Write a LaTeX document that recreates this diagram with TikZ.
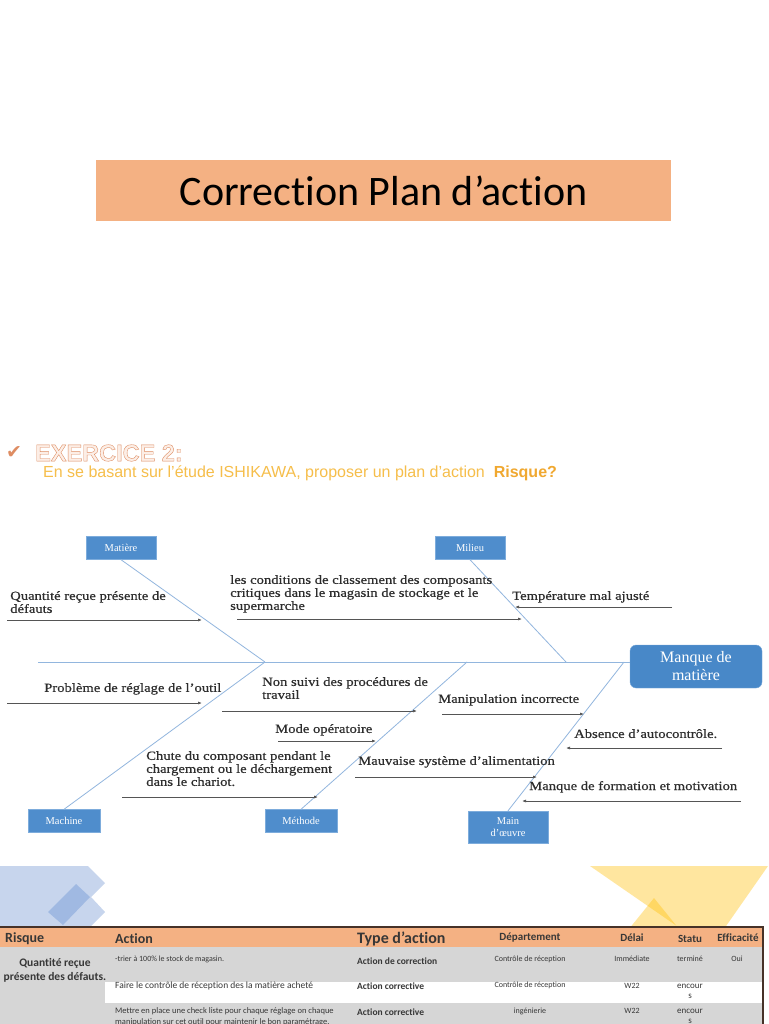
\documentclass[tikz,border=0pt]{standalone}
\usepackage{fontspec}
\setmainfont{Liberation Serif}
\newfontfamily\fishfont[FakeBold=0.45]{Liberation Serif}
\newfontfamily\calibri[Ligatures=NoCommon]{Carlito}
\newfontfamily\arial{Liberation Sans}
\newfontfamily\exofont[FakeBold=1.6]{Liberation Sans Bold}
\newfontfamily\dejavu{DejaVu Sans}
\usetikzlibrary{arrows.meta}
\definecolor{titlepeach}{RGB}{244,177,131}
\definecolor{bonecol}{RGB}{146,182,222}
\definecolor{catblue}{RGB}{79,141,204}
\definecolor{catedge}{RGB}{125,172,220}
\definecolor{headblue}{RGB}{72,136,200}
\definecolor{arrgray}{RGB}{85,85,85}
\definecolor{txtgray}{RGB}{45,45,45}
\definecolor{exoorange}{RGB}{222,140,98}
\definecolor{exopale}{RGB}{252,238,230}
\definecolor{subyellow}{RGB}{246,190,75}
\definecolor{risqorange}{RGB}{240,168,48}
\definecolor{rowgray}{RGB}{214,214,214}
\definecolor{tabline}{RGB}{70,50,40}
\definecolor{tabtxt}{RGB}{55,55,55}
\definecolor{decoblue}{RGB}{199,213,237}
\definecolor{decoblued}{RGB}{160,185,226}
\definecolor{decoyel}{RGB}{255,191,2}
\tikzstyle{cat}=[draw=catedge, fill=catblue, text=white, minimum width=70pt, minimum height=23pt, inner sep=1pt, font=\fontsize{10.5}{11.5}\selectfont]
\tikzstyle{lbl}=[anchor=north west, inner sep=0, align=left, text=txtgray, xscale=1.17, font=\fishfont\fontsize{12.5}{13}\selectfont]
\tikzstyle{cause}=[draw=arrgray, line width=.7pt, -{Latex[length=4pt,width=3pt]}]
\tikzstyle{bone}=[draw=bonecol, line width=.8pt]
\tikzstyle{hd}=[anchor=west, inner sep=0, text=tabtxt, font=\calibri\bfseries\fontsize{11}{12}\selectfont]
\tikzstyle{cell}=[inner sep=0, text=tabtxt, align=center, font=\calibri\fontsize{8}{9.5}\selectfont]
\tikzstyle{deco}=[fill=decoyel, fill opacity=.375]

\begin{document}
\begin{tikzpicture}[x=1pt, y=-1pt]
\useasboundingbox (0,0) rectangle (768,1024);
\clip (0,0) rectangle (768,1024);
\fill[white] (0,0) rectangle (768,1024);
%\draw[help lines,step=16] (0,0) grid (768,1024);
\node at (383.5,190.5)[fill=titlepeach, minimum width=575pt, minimum height=61pt, font=\calibri\fontsize{42}{48}\selectfont](title){Correction Plan d’action};
\node at (14,453)[text=exoorange, font=\dejavu\fontsize{19}{19}\selectfont](tick){✔};
\node at (35,453)[anchor=west, inner sep=0, text=exopale, font=\exofont\fontsize{23.5}{24}\selectfont](exo){\special{pdf:code 0.87 0.55 0.38 RG}EXERCICE 2:};
\node at (43,473)[anchor=west, inner sep=0, text=subyellow, font=\arial\fontsize{16}{16}\selectfont](sub){En se basant sur l’étude ISHIKAWA, proposer un plan d’action\ \ \textcolor{risqorange}{\bfseries Risque?}};

\node at (121,548)[cat](matiere){Matière};
\node at (470,548)[cat](milieu){Milieu};
\node at (64,821)[cat, minimum width=72pt](machine){Machine};
\node at (301,821)[cat, minimum width=72pt](methode){Méthode};
\node at (508,827)[cat, minimum width=80pt, minimum height=32pt, align=center, font=\fontsize{10.5}{12}\selectfont](mainoeuvre){Main\\d’œuvre};
\node at (696,666.5)[draw=catedge, fill=headblue, rounded corners=6pt, text=white, minimum width=132pt, minimum height=43pt, align=center, font=\fontsize{16}{18}\selectfont](effet){Manque de\\matière};
\coordinate (queue) at (38,662);
\coordinate (j1) at (265,662);
\coordinate (j2) at (566,662);
\coordinate (j3) at (467,662);
\coordinate (j4) at (624,662);
\draw[bone] (queue)--(queue -| effet.west);
\draw[bone] (matiere.south)--(j1);
\draw[bone] (machine.north)--(j1);
\draw[bone] (milieu.south)--(j2);
\draw[bone] (methode.north)--(j3);
\draw[bone] (mainoeuvre.north)--(j4);

\node at (10,591)[lbl](quant){Quantité reçue présente de\\défauts};
\node at (230,575)[lbl](cond){les conditions de classement des composants\\critiques dans le magasin de stockage et le\\supermarche};
\node at (512,591)[lbl](temp){Température mal ajusté};
\node at (44,683)[lbl](regl){Problème de réglage de l’outil};
\node at (262,677)[lbl](proc){Non suivi des procédures de\\travail};
\node at (438,694)[lbl](manip){Manipulation incorrecte};
\node at (275,724)[lbl](mode){Mode opératoire};
\node at (574,729)[lbl](absc){Absence d’autocontrôle.};
\node at (146,751)[lbl](chute){Chute du composant pendant le\\chargement ou le déchargement\\dans le chariot.};
\node at (358,756)[lbl](alim){Mauvaise système d’alimentation};
\node at (529,781)[lbl](form){Manque de formation et motivation};
\foreach \n/\xa/\y/\xb in {quant/7/620/202, cond/237/619/522, temp/672/607/515, regl/7/703/202,
    proc/222/711/417, manip/442/714/584, mode/278/741/376, absc/722/748/566,
    chute/122/797/318, alim/355/777/537, form/741/801/522}{
  \coordinate (\n-a) at (\xa,\y);
  \coordinate (\n-b) at (\xb,\y);
  \draw[cause] (\n-a)--(\n-b);
}

\fill[decoblue] (0,866)--(88,866)--(105,883)--(91,897)--(105,912)--(90,927)--(0,927)--cycle;
\fill[decoblued] (76,884)--(90,897)--(63,925)--(48,912)--cycle;
\fill[deco] (590,866)--(768,866)--(710,949)--cycle;
\fill[deco] (654,898)--(700,955)--(608,955)--cycle;
\fill[titlepeach] (0,927) rectangle (763,947);
\fill[rowgray] (0,947) rectangle (105,1024);
\fill[rowgray] (105,947) rectangle (763,982);
\fill[white] (105,982) rectangle (763,1003);
\fill[rowgray] (105,1003) rectangle (763,1024);
\draw[tabline, line width=2pt] (0,927)--(764,927);
\draw[tabline, line width=1.5pt] (763,927)--(763,1024);

\node at (5,939)[hd, font=\calibri\bfseries\fontsize{14}{15}\selectfont](hrisque){Risque};
\node at (115,939)[hd, font=\calibri\bfseries\fontsize{14}{15}\selectfont](haction){Action};
\node at (357,939)[hd, font=\calibri\bfseries\fontsize{16}{17}\selectfont](htype){Type d’action};
\node at (530,938)[hd, anchor=center](hdep){Département};
\node at (632,938)[hd, anchor=center](hdelai){Délai};
\node at (690,939)[hd, anchor=center](hstatu){Statu};
\node at (738,938)[hd, anchor=center](heff){Efficacité};

\node at (55,970)[cell, font=\calibri\bfseries\fontsize{11.5}{14}\selectfont](risq1){Quantité reçue\\présente des défauts.};
\node at (115,959)[cell, anchor=west](act1){-trier à 100\% le stock de magasin.};
\node at (357,961)[cell, anchor=west, font=\calibri\bfseries\fontsize{9.5}{11}\selectfont](type1){Action de correction};
\node at (530,959)[cell](dep1){Contrôle de réception};
\node at (632,959)[cell](del1){Immédiate};
\node at (690,959)[cell](stat1){terminé};
\node at (737,959)[cell](eff1){Oui};
\node at (115,986)[cell, anchor=west, font=\calibri\fontsize{9.5}{11}\selectfont](act2){Faire le contrôle de réception des la matière acheté};
\node at (357,986)[cell, anchor=west, font=\calibri\bfseries\fontsize{9.5}{11}\selectfont](type2){Action corrective};
\node at (530,985)[cell](dep2){Contrôle de réception};
\node at (632,986)[cell](del2){W22};
\node at (690,991.5)[cell, font=\calibri\fontsize{9}{10}\selectfont](stat2){encour\\s};
\node at (115,1016.5)[cell, anchor=west, align=left, font=\calibri\fontsize{8.5}{11}\selectfont](act3){Mettre en place une check liste pour chaque réglage on chaque\\manipulation sur cet outil pour maintenir le bon paramétrage.};
\node at (357,1012)[cell, anchor=west, font=\calibri\bfseries\fontsize{9.5}{11}\selectfont](type3){Action corrective};
\node at (530,1011)[cell](dep3){ingénierie};
\node at (632,1011)[cell](del3){W22};
\node at (690,1016)[cell, font=\calibri\fontsize{9}{10}\selectfont](stat3){encour\\s};
\end{tikzpicture}
\end{document}
